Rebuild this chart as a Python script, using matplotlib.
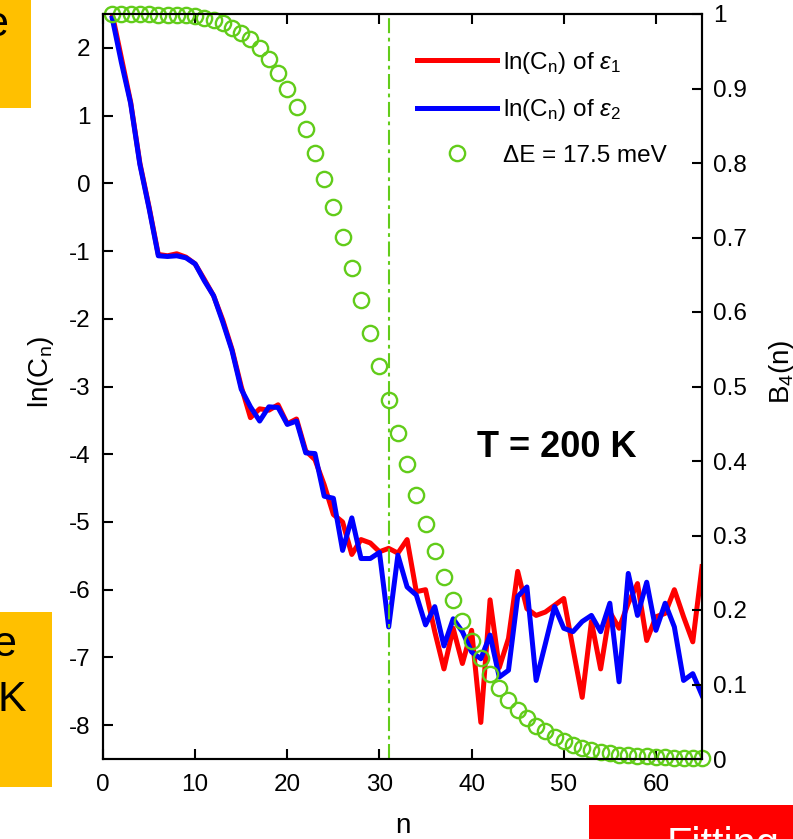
import numpy as np
import matplotlib.pyplot as plt
from matplotlib.patches import Rectangle
from matplotlib.lines import Line2D

plt.rcParams['font.family'] = ['Liberation Sans', 'DejaVu Sans']
plt.rcParams['mathtext.fontset'] = 'custom'
plt.rcParams['mathtext.rm'] = 'Liberation Sans'
plt.rcParams['mathtext.it'] = 'Liberation Sans:italic'
plt.rcParams['mathtext.bf'] = 'Liberation Sans:bold'
plt.rcParams['axes.unicode_minus'] = False

# Chebyshev order n and the coefficients for both energies
n = np.arange(1, 66)
ln_c_eps1 = [2.50, 1.85, 1.20, 0.30, -0.35, -1.05, -1.07, -1.04, -1.09, -1.19,
             -1.42, -1.66, -2.02, -2.45, -3.00, -3.46, -3.33, -3.35, -3.27, -3.55,
             -3.48, -3.95, -4.08, -4.45, -4.89, -5.00, -5.48, -5.26, -5.31, -5.44,
             -5.39, -5.46, -5.26, -6.03, -6.00, -6.62, -7.17, -6.57, -7.09, -6.60,
             -7.96, -6.15, -7.15, -6.72, -5.73, -6.28, -6.38, -6.33, -6.23, -6.13,
             -6.87, -7.59, -6.47, -7.17, -6.33, -6.57, -6.20, -5.91, -6.75, -6.40,
             -6.35, -6.00, -6.40, -6.77, -5.66]
ln_c_eps2 = [2.44, 1.78, 1.18, 0.28, -0.37, -1.07, -1.08, -1.07, -1.10, -1.19,
             -1.44, -1.66, -2.05, -2.47, -3.04, -3.30, -3.51, -3.30, -3.31, -3.56,
             -3.51, -3.98, -3.99, -4.62, -4.65, -5.42, -4.94, -5.54, -5.54, -5.45,
             -6.55, -5.49, -5.96, -6.08, -6.52, -6.25, -6.83, -6.43, -6.62, -6.92,
             -7.02, -6.67, -7.29, -7.19, -6.10, -5.96, -7.34, -6.80, -6.25, -6.57,
             -6.62, -6.47, -6.38, -6.62, -6.20, -7.36, -5.76, -6.38, -5.89, -6.60,
             -6.20, -6.55, -7.34, -7.24, -7.56]
# damping kernel B4(n) for dE = 17.5 meV
b4 = [1.000, 1.000, 1.000, 1.000, 1.000, 0.999, 0.999, 0.999, 0.998, 0.997,
      0.995, 0.992, 0.988, 0.981, 0.975, 0.966, 0.954, 0.940, 0.921, 0.899,
      0.875, 0.846, 0.813, 0.778, 0.741, 0.701, 0.659, 0.616, 0.572, 0.527,
      0.482, 0.438, 0.396, 0.354, 0.316, 0.279, 0.244, 0.214, 0.185, 0.158,
      0.135, 0.114, 0.095, 0.079, 0.066, 0.055, 0.044, 0.037, 0.030, 0.024,
      0.019, 0.015, 0.012, 0.010, 0.008, 0.006, 0.005, 0.004, 0.004, 0.003,
      0.003, 0.002, 0.002, 0.002, 0.002]
n_cut = 31

left_ticks = list(range(-8, 3))
right_ticks = [0, 0.1, 0.2, 0.3, 0.4, 0.5, 0.6, 0.7, 0.8, 0.9, 1]
right_labels = ['0', '0.1', '0.2', '0.3', '0.4', '0.5', '0.6', '0.7', '0.8', '0.9', '1']

green = '#62CC1A'
W, H = 793, 839
fig = plt.figure(figsize=(W / 100, H / 100), dpi=100)
ax = fig.add_axes([103 / W, 80 / H, 599 / W, 745 / H])

ax.plot(n, ln_c_eps1, color='#ff0000', lw=3.6)
ax.plot(n, ln_c_eps2, color='#0000ff', lw=3.6)
ax.axvline(n_cut, color=green, lw=1.5, linestyle=(0, (7.2, 2.2, 1.8, 2.2)))
ax.set_xlim(0, 65)
ax.set_ylim(-8.5, 2.5)
ax.set_xticks(range(0, 61, 10))
ax.set_yticks(left_ticks)
ax.set_xlabel('n', fontsize=20, labelpad=12)
ax.set_ylabel(r'ln(C$_{\mathrm{n}}$)', fontsize=20)
ax.yaxis.set_label_coords(-0.078, 0.52)
ax.tick_params(direction='in', length=7, width=1.5, labelsize=17.5, top=True, right=False)
ax.tick_params(axis='x', pad=11)
ax.tick_params(axis='y', pad=9)

ax2 = ax.twinx()
ax2.plot(n, b4, 'o', mfc='none', mec=green, ms=11, mew=1.7, clip_on=False)
ax2.set_ylim(0, 1)
ax2.set_yticks(right_ticks)
ax2.set_yticklabels(right_labels)
ax2.set_ylabel(r'B$_{4}$(n)', fontsize=20, rotation=90)
ax2.yaxis.set_label_coords(1.108, 0.52)
ax2.tick_params(direction='in', length=7, width=1.5, labelsize=17.5, pad=8)

for a in (ax, ax2):
    for s in a.spines.values():
        s.set_linewidth(1.5)

ax.text(0.758, 0.418, 'T = 200 K', transform=ax.transAxes, fontsize=26,
        fontweight='bold', ha='center', va='center')

handles = [Line2D([], [], color='#ff0000', lw=3.6),
           Line2D([], [], color='#0000ff', lw=3.6),
           Line2D([], [], color=green, marker='o', mfc='none', mew=1.7, ms=11, ls='none')]
labels = [r'ln(C$_{\mathrm{n}}$) of $\epsilon_{1}$',
          r'ln(C$_{\mathrm{n}}$) of $\epsilon_{2}$',
          '\u0394E = 17.5 meV']
fig.legend(handles, labels, loc='upper left', bbox_to_anchor=(417 / W, 1 - 50 / H),
           bbox_transform=fig.transFigure, frameon=False, fontsize=17.5,
           handlelength=3.3, handletextpad=0.25, labelspacing=0.88, borderpad=0,
           borderaxespad=0, numpoints=1)

# slide boxes around the plot
fig.add_artist(Rectangle((0, 1 - 108 / H), 31 / W, 108 / H, transform=fig.transFigure,
                         facecolor='#ffc000', edgecolor='none'))
fig.text(8 / W, 1 - 25 / H, 'e', fontsize=31, ha='right', va='center')
fig.add_artist(Rectangle((0, 52 / H), 52 / W, 175 / H, transform=fig.transFigure,
                         facecolor='#ffc000', edgecolor='none'))
fig.text(16 / W, 1 - 645 / H, 'e', fontsize=31, ha='right', va='center')
fig.text(26 / W, 1 - 700 / H, 'K', fontsize=31, ha='right', va='center')
fig.add_artist(Rectangle((589 / W, 0), 204 / W, 34 / H, transform=fig.transFigure,
                         facecolor='#ff0000', edgecolor='none'))
fig.text(667 / W, -18 / H, 'Fitting', fontsize=30, color='white', ha='left',
         va='baseline')

fig.savefig('out.png', dpi=100)
